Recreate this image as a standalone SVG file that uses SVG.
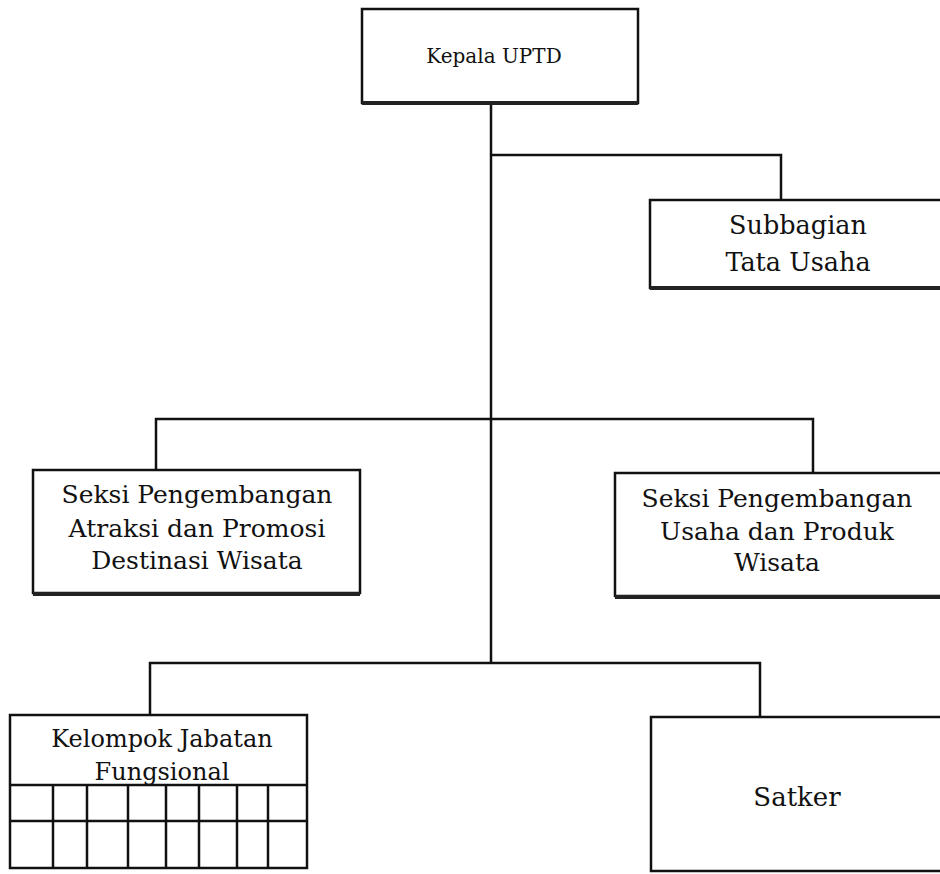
<svg xmlns="http://www.w3.org/2000/svg" width="940" height="874" viewBox="0 0 940 874">
<style>
.box{fill:#fff;stroke:#111;stroke-width:2.5}
.sh{stroke:#222;stroke-width:4}
.ln{fill:none;stroke:#111;stroke-width:2.5}
.t{font-family:"DejaVu Serif","Liberation Serif",serif;fill:#111;text-anchor:middle}
</style>
<rect width="940" height="874" fill="#fff"/>
<g id="connectors">
<path class="ln" d="M491 104V663"/>
<path class="ln" d="M491 155H781V200"/>
<path class="ln" d="M156 470V419H813V473"/>
<path class="ln" d="M150 715V663H760V717"/>
</g>
<g id="kepala">
<rect class="box" x="362" y="9" width="276" height="94"/>
<line class="sh" x1="362" y1="103" x2="638" y2="103"/>
<text class="t" x="494" y="63" font-size="20">Kepala UPTD</text>
</g>
<g id="subbagian">
<rect class="box" x="650" y="200" width="300" height="88"/>
<line class="sh" x1="650" y1="288" x2="940" y2="288"/>
<text class="t" x="798" y="234" font-size="25.5">Subbagian</text>
<text class="t" x="798" y="271" font-size="25.5">Tata Usaha</text>
</g>
<g id="seksi-atraksi">
<rect class="box" x="33" y="470" width="327" height="123"/>
<line class="sh" x1="33" y1="594" x2="360" y2="594"/>
<text class="t" x="197" y="503" font-size="25">Seksi Pengembangan</text>
<text class="t" x="197" y="537" font-size="25">Atraksi dan Promosi</text>
<text class="t" x="197" y="569" font-size="25">Destinasi Wisata</text>
</g>
<g id="seksi-usaha">
<rect class="box" x="615" y="473" width="335" height="123"/>
<line class="sh" x1="615" y1="597" x2="940" y2="597"/>
<text class="t" x="777" y="507" font-size="25">Seksi Pengembangan</text>
<text class="t" x="777" y="540" font-size="25">Usaha dan Produk</text>
<text class="t" x="777" y="571" font-size="25">Wisata</text>
</g>
<g id="kelompok">
<rect class="box" x="10" y="715" width="297" height="153"/>
<path class="ln" d="M10 785H307M10 821H307M53 785V868M87 785V868M128 785V868M166 785V868M199 785V868M237 785V868M268 785V868"/>
<text class="t" x="162" y="747" font-size="24">Kelompok Jabatan</text>
<text class="t" x="162" y="780" font-size="24">Fungsional</text>
</g>
<g id="satker">
<rect class="box" x="651" y="717" width="300" height="154"/>
<text class="t" x="797" y="806" font-size="26">Satker</text>
</g>
</svg>
